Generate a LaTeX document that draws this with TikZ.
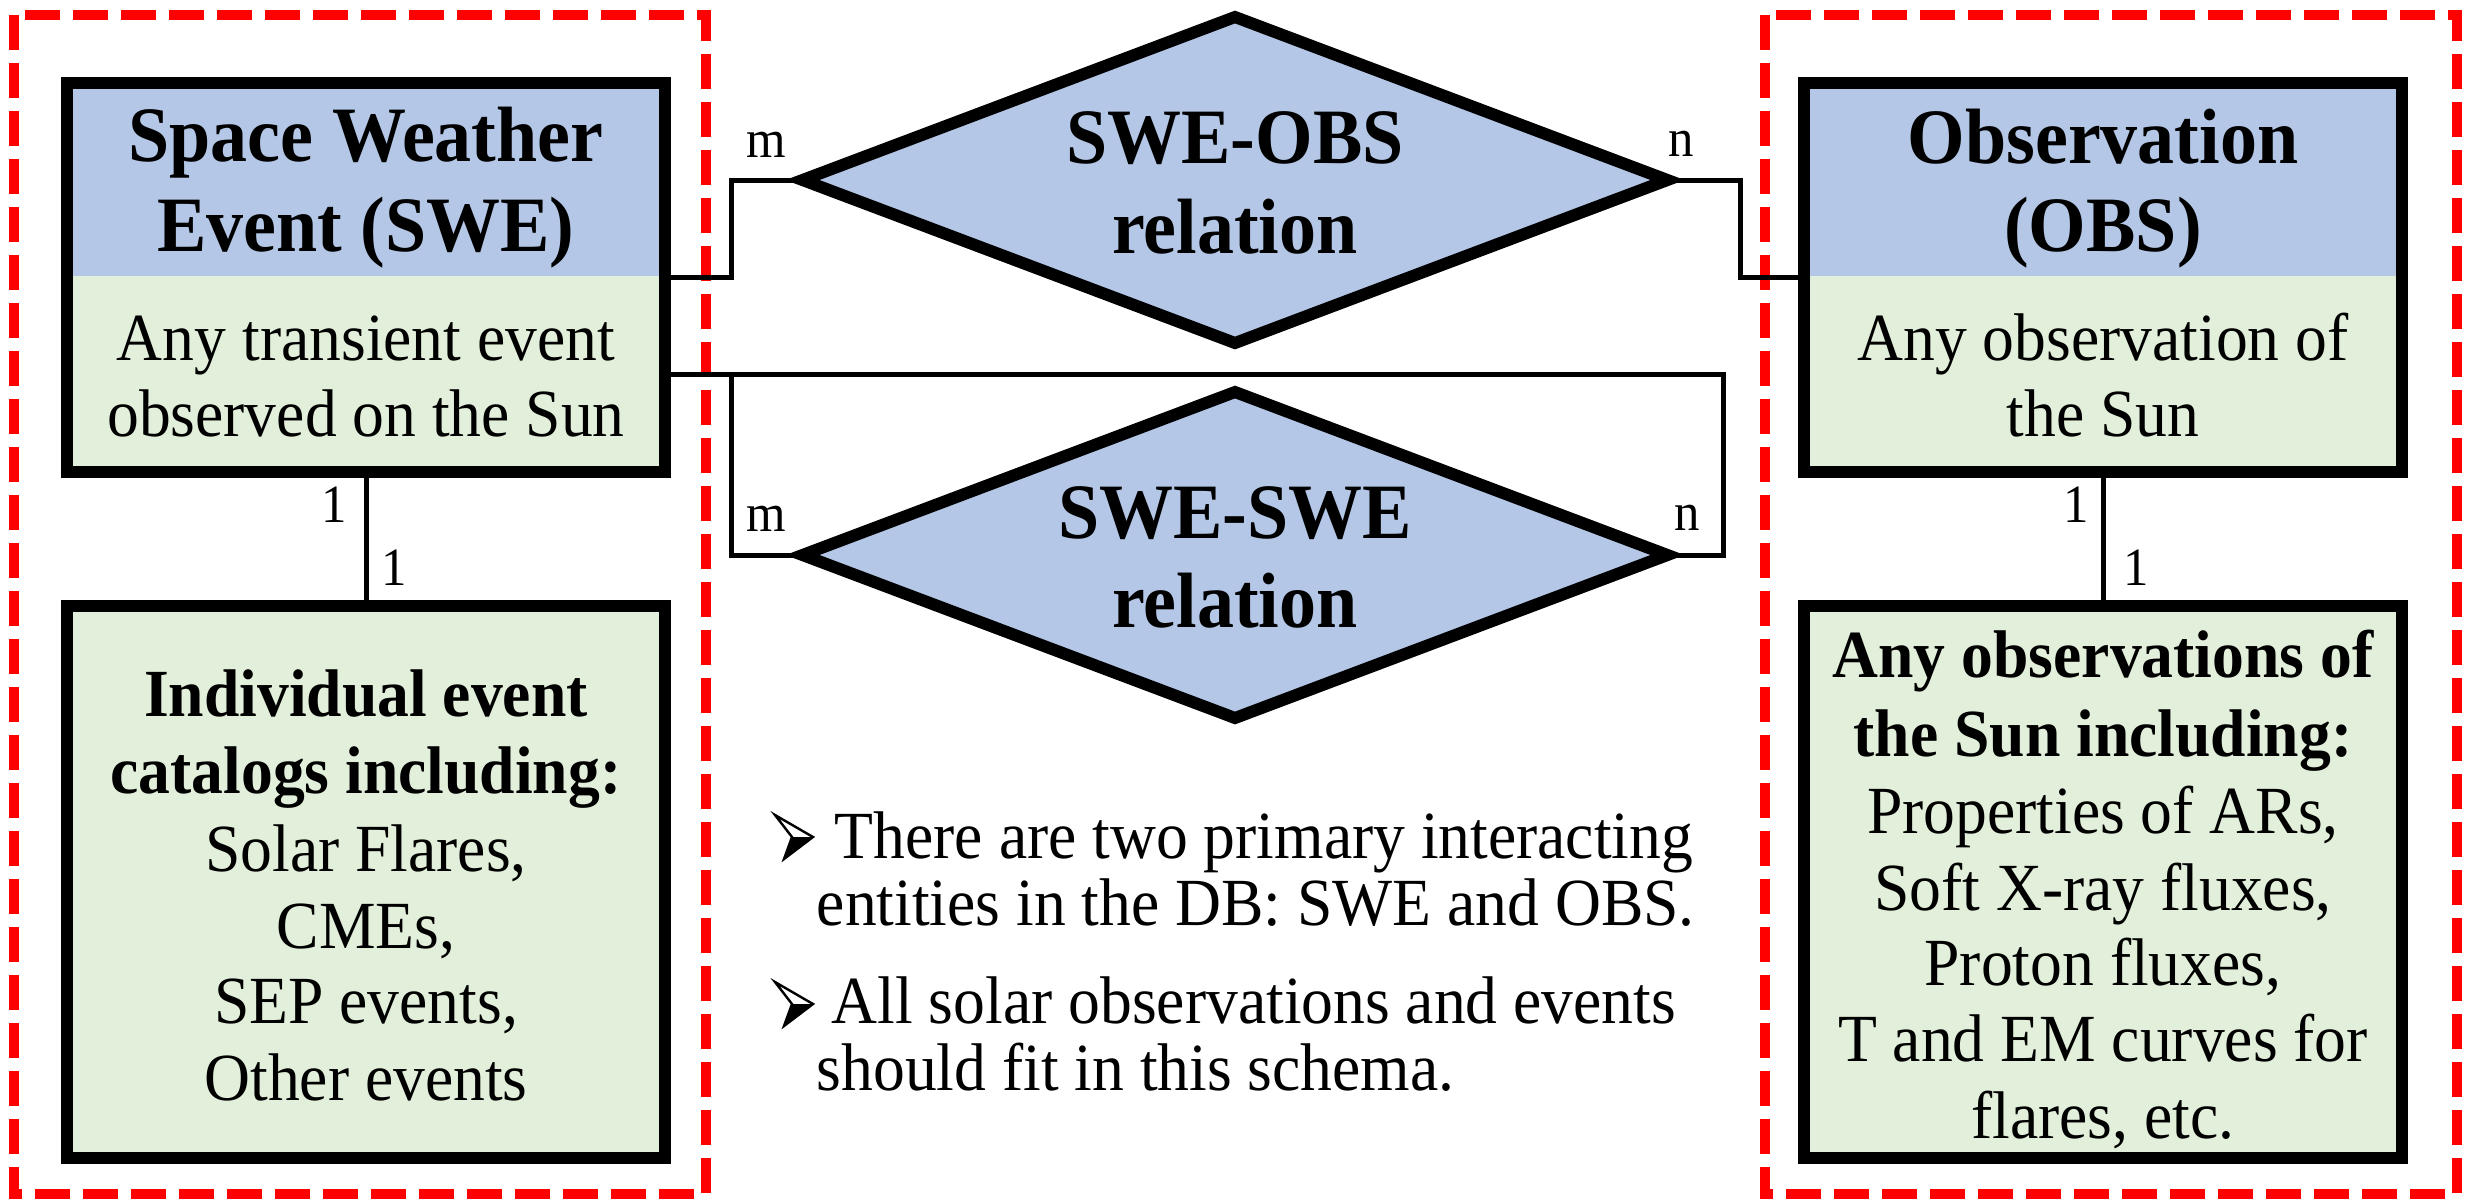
\documentclass[tikz,border=0pt]{standalone}
\usepackage{fontspec}
\usepackage{graphicx}
\setmainfont{Liberation Serif}
\usetikzlibrary{shapes.geometric}
\definecolor{bluef}{HTML}{B4C7E7}
\definecolor{greenf}{HTML}{E2EFDA}
\newcommand{\vst}[1]{\scalebox{1}[1.06]{#1}}
\begin{document}
\begin{tikzpicture}[x=0.25pt,y=-0.25pt,
  ebox/.style={draw, rectangle, line width=3pt, inner sep=0pt, fill=greenf},
  split/.style={path picture={\fill[bluef] (path picture bounding box.north west) rectangle ([yshift=-48.25pt]path picture bounding box.north east);}},
  dia/.style={diamond, draw, fill=bluef, line width=3pt, inner sep=0pt, outer sep=0pt, line join=miter, minimum width=216.25pt, minimum height=81.5pt},
  conn/.style={line width=1.25pt},
  reddash/.style={draw=red, line width=2.5pt, dash pattern=on 8.75pt off 3.25pt},
  txt/.style={anchor=base, inner sep=0pt, font=\fontsize{15.9}{19}\selectfont},
  bld/.style={anchor=base, inner sep=0pt, font=\fontsize{15.9}{19}\selectfont\bfseries},
  ttl/.style={anchor=base, inner sep=0pt, font=\fontsize{18.5}{22}\selectfont\bfseries},
  lbl/.style={anchor=base, inner sep=0pt, font=\fontsize{12.7}{15}\selectfont},
  btxt/.style={txt, anchor=base west}
]
\useasboundingbox (0,0) rectangle (2466,1202);

% red dashed groups
\draw[reddash] (14,15) rectangle (706,1194);
\draw[reddash] (1765,15) rectangle (2457,1194);

% entity boxes
\node[ebox, split, minimum width=149.5pt, minimum height=97.25pt] (swe) at (366,277.5) {};
\node[ebox, minimum width=149.5pt, minimum height=138pt] (cat) at (366,882) {};
\node[ebox, split, minimum width=149.5pt, minimum height=97.25pt] (obs) at (2103,277.5) {};
\node[ebox, minimum width=149.5pt, minimum height=138pt] (det) at (2103,882) {};

% relation diamonds
\node[dia] (d1) at (1235,180) {};
\node[dia] (d2) at (1235,555) {};

% connectors
\coordinate (k1) at (731,180);
\coordinate (k2) at (1740,180);
\coordinate (r1) at (1723,374);
\coordinate (l1) at (731,374);
\draw[conn] (swe.east) -| (k1) -- (d1.west);
\draw[conn] (d1.east) -- (k2) |- (obs.west);
\draw[conn] (swe.east |- r1) -- (r1) |- (d2.east);
\draw[conn] (l1) |- (d2.west);
\draw[conn] (swe.south) -- (cat.north);
\draw[conn] (obs.south) -- (det.north);

% cardinality labels
\node[lbl] (m1) at (766,157) {\vst{m}};
\node[lbl] (n1) at (1681,156) {\vst{n}};
\node[lbl] (m2) at (766,531) {\vst{m}};
\node[lbl] (n2) at (1687,530) {\vst{n}};
\node[lbl] (o1) at (334,522) {\vst{1}};
\node[lbl] (o2) at (394,585) {\vst{1}};
\node[lbl] (o3) at (2076,522) {\vst{1}};
\node[lbl] (o4) at (2136,585) {\vst{1}};

% SWE box text
\node[ttl] (sweA) at (366,161) {\vst{Space Weather}};
\node[ttl] (sweB) at (366,251) {\vst{Event (SWE)}};
\node[txt] (sweC) at (366,360) {\vst{Any transient event}};
\node[txt] (sweD) at (366,436) {\vst{observed on the Sun}};

% OBS box text
\node[ttl] (obsA) at (2103,163) {\vst{Observation}};
\node[ttl] (obsB) at (2103,251) {\vst{(OBS)}};
\node[txt] (obsC) at (2103,360) {\vst{Any observation of}};
\node[txt] (obsD) at (2103,436) {\vst{the Sun}};

% diamond text
\node[ttl] (d1A) at (1235,163) {\vst{SWE-OBS}};
\node[ttl] (d1B) at (1235,253) {\vst{relation}};
\node[ttl] (d2A) at (1235,538) {\vst{SWE-SWE}};
\node[ttl] (d2B) at (1235,627) {\vst{relation}};

% catalog text
\node[bld] (catA) at (366,716) {\vst{Individual event}};
\node[bld] (catB) at (366,793) {\vst{catalogs including:}};
\node[txt] (catC) at (366,871) {\vst{Solar Flares,}};
\node[txt] (catD) at (366,948) {\vst{CMEs,}};
\node[txt] (catE) at (366,1023) {\vst{SEP events,}};
\node[txt] (catF) at (366,1100) {\vst{Other events}};

% observation details text
\node[bld] (detA) at (2103,677) {\vst{Any observations of}};
\node[bld] (detB) at (2103,756) {\vst{the Sun including:}};
\node[txt] (detC) at (2103,833) {\vst{Properties of ARs,}};
\node[txt] (detD) at (2103,910) {\vst{Soft X-ray fluxes,}};
\node[txt] (detE) at (2103,985) {\vst{Proton fluxes,}};
\node[txt] (detF) at (2103,1061) {\vst{T and EM curves for}};
\node[txt] (detG) at (2103,1138) {\vst{flares, etc.}};

% bullets
\fill (792,837) -- (813,837) -- (784,859) -- cycle;
\draw[line width=0.6pt, line join=miter] (775,815) -- (813,837) -- (784,859) -- (792,837) -- cycle;
\fill (792,1004) -- (813,1004) -- (784,1026) -- cycle;
\draw[line width=0.6pt, line join=miter] (775,982) -- (813,1004) -- (784,1026) -- (792,1004) -- cycle;
\node[btxt] (b1) at (834,858) {\vst{There are two primary interacting}};
\node[btxt] (b2) at (816,925) {\vst{entities in the DB: SWE and OBS.}};
\node[btxt] (b3) at (831,1023) {\vst{All solar observations and events}};
\node[btxt] (b4) at (816,1090) {\vst{should fit in this schema.}};
\end{tikzpicture}
\end{document}
